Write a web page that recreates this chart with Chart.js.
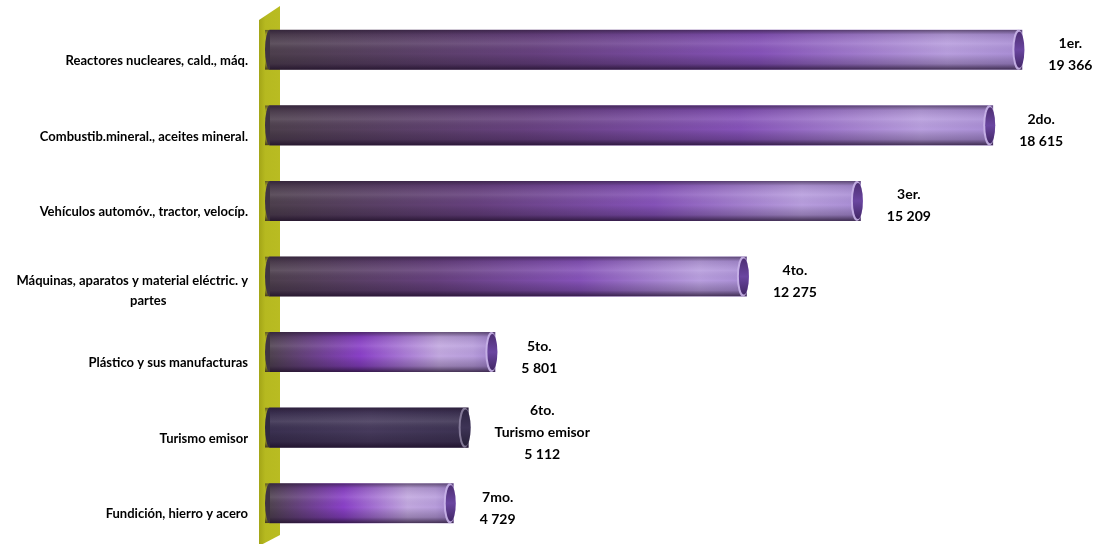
<!DOCTYPE html>
<html>
<head>
<meta charset="utf-8">
<script src="https://cdn.jsdelivr.net/npm/chart.js@4/dist/chart.umd.min.js"></script>
<style>
  html, body { margin: 0; padding: 0; background: #fff; }
  #wrap { width: 1104px; height: 544px; position: relative; }
</style>
</head>
<body>
<div id="wrap"><canvas id="rankChart"></canvas></div>
<script>
// Categories, values and rank text
const categories = [
  'Reactores nucleares, cald., máq.',
  'Combustib.mineral., aceites mineral.',
  'Vehículos automóv., tractor, velocíp.',
  ['Máquinas, aparatos y material eléctric. y', 'partes'],
  'Plástico y sus manufacturas',
  'Turismo emisor',
  'Fundición, hierro y acero'
];
const values = [19366, 18615, 15209, 12275, 5801, 5112, 4729];
const ranks = ['1er.', '2do.', '3er.', '4to.', '5to.', '6to.', '7mo.'];
const rankNotes = ['', '', '', '', '', 'Turismo emisor', ''];

// gradient look per bar (style only)
const barLook = ['std', 'std', 'std', 'std', 'bright', 'dark', 'bright'];
const looks = {
  std:    [[0, '#4d3f4d'], [0.35, '#66407e'], [0.65, '#8552b8'], [0.9, '#b89ede'], [1, '#a88cd4']],
  bright: [[0, '#4f4250'], [0.4, '#8a40c8'], [0.75, '#c2a8e0'], [0.9, '#b89ddc'], [1, '#9e80cc']],
  dark:   [[0, '#3a3050'], [0.5, '#463a5c'], [1, '#3c3252']]
};

const fmt = v => String(v).replace(/\B(?=(\d{3})+(?!\d))/g, ' ');

function barFill(ctx) {
  const chart = ctx.chart;
  if (!chart.chartArea || ctx.dataIndex === undefined) return '#6a4a8a';
  const xs = chart.scales.x;
  const x0 = xs.getPixelForValue(0);
  const x1 = xs.getPixelForValue(values[ctx.dataIndex]);
  const g = chart.ctx.createLinearGradient(x0, 0, x1, 0);
  looks[barLook[ctx.dataIndex]].forEach(s => g.addColorStop(s[0], s[1]));
  return g;
}

// yellow-green wall behind the bars
const wallPlugin = {
  id: 'wall',
  beforeDatasetsDraw(chart) {
    const { ctx, chartArea: ca } = chart;
    const l = ca.left - 11, r = ca.left + 10;
    ctx.save();
    ctx.beginPath();
    ctx.moveTo(l, ca.top + 8);
    ctx.lineTo(r, ca.top - 6);
    ctx.lineTo(r, chart.height - 9);
    ctx.lineTo(l, chart.height + 2);
    ctx.closePath();
    const g = ctx.createLinearGradient(l, 0, r, 0);
    g.addColorStop(0, '#a3a517');
    g.addColorStop(0.3, '#b6b920');
    g.addColorStop(1, '#b9bc22');
    ctx.fillStyle = g;
    ctx.fill();
    ctx.restore();
  }
};

// cylinder shading, caps, category labels and rank labels
const cylinderPlugin = {
  id: 'cylinder',
  afterDatasetsDraw(chart) {
    const ctx = chart.ctx;
    const meta = chart.getDatasetMeta(0);
    meta.data.forEach((bar, i) => {
      const { x, y, base, height } = bar.getProps(['x', 'y', 'base', 'height'], true);
      const top = y - height / 2, bot = y + height / 2;
      const dark = barLook[i] === 'dark';
      ctx.save();
      // vertical shading
      ctx.beginPath();
      ctx.rect(base - 5, top, x - base + 5, height);
      ctx.clip();
      const v = ctx.createLinearGradient(0, top, 0, bot);
      v.addColorStop(0, 'rgba(35,20,45,0.6)');
      v.addColorStop(0.12, 'rgba(35,20,45,0.12)');
      v.addColorStop(0.35, 'rgba(255,255,255,0.1)');
      v.addColorStop(0.6, 'rgba(0,0,0,0)');
      v.addColorStop(0.85, 'rgba(25,10,35,0.25)');
      v.addColorStop(1, 'rgba(25,10,35,0.75)');
      ctx.fillStyle = v;
      ctx.fillRect(base - 5, top, x - base + 5, height);
      ctx.restore();

      ctx.save();
      // left rounded end
      ctx.beginPath();
      ctx.ellipse(base, y, 5, height / 2, 0, Math.PI / 2, Math.PI * 1.5);
      ctx.fillStyle = dark ? '#2f2840' : '#3f3343';
      ctx.fill();
      // right cap: light rim then dark face
      ctx.beginPath();
      ctx.ellipse(x - 4, y, 6, height / 2, 0, 0, Math.PI * 2);
      ctx.fillStyle = dark ? 'rgba(140,130,160,0.9)' : 'rgba(200,178,232,0.9)';
      ctx.fill();
      ctx.beginPath();
      ctx.ellipse(x - 3, y, 5, height / 2 - 2, 0, 0, Math.PI * 2);
      const c = ctx.createLinearGradient(0, top, 0, bot);
      c.addColorStop(0, dark ? '#2c2440' : '#4a2c6e');
      c.addColorStop(0.5, dark ? '#3e3456' : '#6a46a0');
      c.addColorStop(1, dark ? '#251e36' : '#3e2460');
      ctx.fillStyle = c;
      ctx.fill();
      ctx.restore();

      // rank / value label
      const lines = [ranks[i]];
      if (rankNotes[i]) lines.push(rankNotes[i]);
      lines.push(fmt(values[i]));
      ctx.save();
      ctx.font = 'bold 14px Lato, "Open Sans", sans-serif';
      ctx.fillStyle = '#000';
      ctx.textAlign = 'center';
      ctx.textBaseline = 'middle';
      const w = Math.max(...lines.map(t => ctx.measureText(t).width));
      const cx = x + 26 + w / 2;
      const lh = 22;
      const y0 = y + 5 - (lines.length - 1) * lh / 2;
      lines.forEach((t, k) => ctx.fillText(t, cx, y0 + k * lh));
      ctx.restore();
    });

    // category labels
    const ys = chart.scales.y;
    ctx.save();
    ctx.font = 'bold 13px Lato, "Open Sans", sans-serif';
    ctx.fillStyle = '#000';
    ctx.textBaseline = 'middle';
    const rx = chart.chartArea.left - 22;
    chart.data.labels.forEach((lab, i) => {
      const py = ys.getPixelForValue(i) + 11;
      if (Array.isArray(lab)) {
        ctx.textAlign = 'right';
        const w0 = ctx.measureText(lab[0]).width;
        const y0 = py - 10 * (lab.length - 1) / 2 - 2;
        ctx.fillText(lab[0], rx, y0);
        ctx.textAlign = 'center';
        for (let k = 1; k < lab.length; k++) ctx.fillText(lab[k], rx - w0 / 2 + 16, y0 + 20 * k);
      } else {
        ctx.textAlign = 'right';
        ctx.fillText(lab, rx, py);
      }
    });
    ctx.restore();
  }
};

new Chart(document.getElementById('rankChart').getContext('2d'), {
  type: 'bar',
  data: {
    labels: categories,
    datasets: [{
      data: values,
      backgroundColor: barFill,
      borderWidth: 0,
      barPercentage: 0.53,
      categoryPercentage: 1
    }]
  },
  options: {
    indexAxis: 'y',
    responsive: true,
    maintainAspectRatio: false,
    animation: false,
    layout: { padding: { left: 270, right: 57, top: 12, bottom: 3 } },
    plugins: { legend: { display: false }, tooltip: { enabled: false } },
    scales: {
      x: { display: false, min: 0, max: 20000 },
      y: { display: false }
    }
  },
  plugins: [wallPlugin, cylinderPlugin]
});
</script>
</body>
</html>
